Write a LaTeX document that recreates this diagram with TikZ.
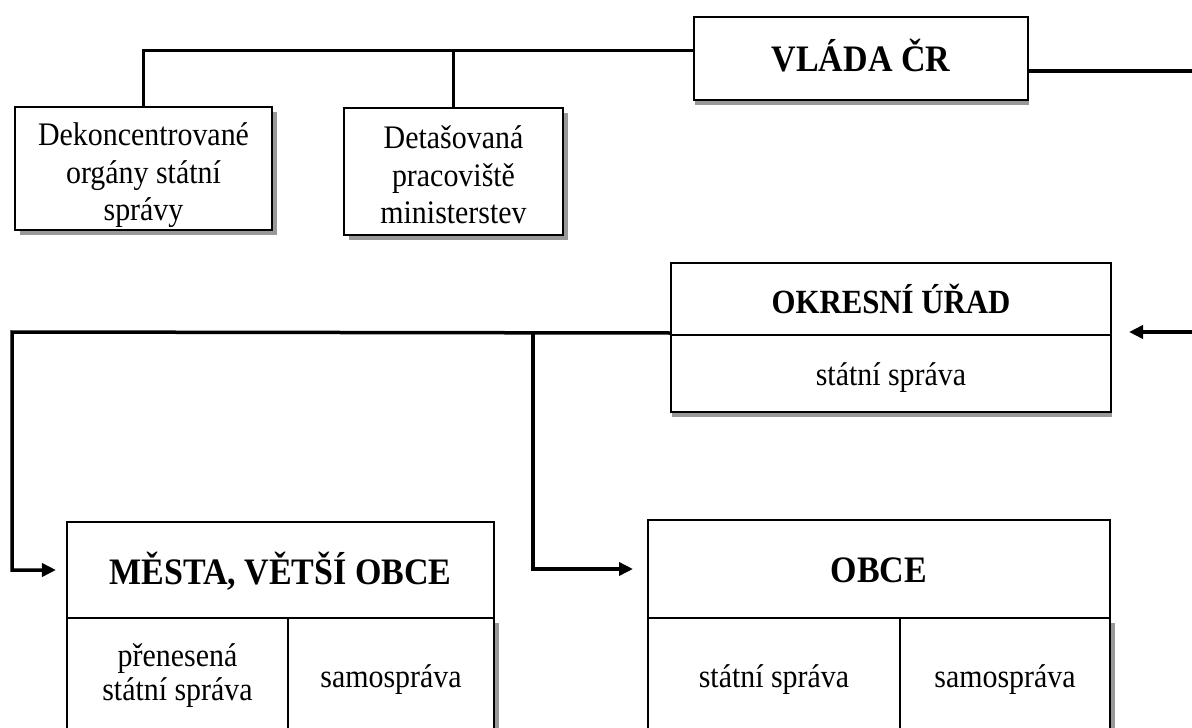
\documentclass[tikz,border=0pt]{standalone}
\usepackage{fontspec}
\setmainfont{Liberation Serif}[FakeStretch=0.91]
\usetikzlibrary{arrows.meta,shadows,calc}

\newcommand\plaintxt{\fontsize{33}{38}\selectfont}
\newcommand\headtxt{\fontsize{37.5}{44}\selectfont\bfseries}
\newcommand\midtxt{\fontsize{34}{40}\selectfont\bfseries}
% a centred block of lines, lowered by #1 without changing its size
\newcommand\lines[2][0bp]{\raisebox{#1}[\height][\depth]{\begin{tabular}{@{}c@{}}#2\end{tabular}}}

\tikzset{
  box/.style={draw, line width=2bp, fill=white, inner sep=0pt, align=center, font=\plaintxt},
  shadeA/.style={drop shadow={shadow xshift=5bp, shadow yshift=-5bp, fill=black!40, opacity=1}},
  shadeB/.style={drop shadow={shadow xshift=1bp, shadow yshift=-5bp, fill=black!40, opacity=1}},
  conn/.style={line width=3.5bp, line join=miter},
  arr/.style={conn, -{Triangle[length=14bp, width=13bp]}},
}

\begin{document}
\begin{tikzpicture}[x=1bp, y=-1bp]
  \useasboundingbox (0,0) rectangle (1192,728);
  \clip (0,0) rectangle (1192,728);
  \fill[white] (0,0) rectangle (1192,728);

  % government
  \node[box, shadeB, minimum width=334bp, minimum height=83bp] (vlada) at (861,58.5) {\headtxt\lines[-3.5bp]{VLÁDA ČR}};

  % bodies under the government
  \node[box, shadeA, minimum width=257bp, minimum height=123bp] (dek) at (143.5,168.5)
    {\lines[-7bp]{Dekoncentrované\\orgány státní\\správy}};
  \node[box, shadeA, minimum width=219bp, minimum height=127bp] (det) at (453.5,171.5)
    {\lines[-7bp]{Detašovaná\\pracoviště\\ministerstev}};

  % district office
  \node[box, shadeB, minimum width=440bp, minimum height=77bp] (okresB) at (891,373.5) {\lines[-4bp]{státní správa}};
  \node[box, minimum width=440bp, minimum height=72bp] (okres) at (891,299) {\midtxt OKRESNÍ ÚŘAD};

  % towns
  \node[box, shadeA, minimum width=221bp, minimum height=118bp] (mestaA) at (177.5,677)
    {\fontsize{33}{34}\selectfont\lines{přenesená\\státní správa}};
  \node[box, shadeA, minimum width=206bp, minimum height=118bp] (mestaB) at (391,677) {\lines[-3bp]{samospráva}};
  \node[box, minimum width=427bp, minimum height=96bp] (mesta) at (280.5,570) {\headtxt\lines[-5bp]{MĚSTA, VĚTŠÍ OBCE}};

  % municipalities
  \node[box, shadeA, minimum width=252bp, minimum height=118bp] (obceA) at (774,677) {\lines[-3bp]{státní správa}};
  \node[box, shadeA, minimum width=210bp, minimum height=118bp] (obceB) at (1005,677) {\lines[-3bp]{samospráva}};
  \node[box, minimum width=462bp, minimum height=98bp] (obce) at (879,569) {\headtxt\lines[-5bp]{OBCE}};

  % connectors
  \coordinate (topl) at ($(vlada.west)+(0,-8)$);
  \draw[conn] (topl) -| (dek.north);
  \draw[conn] (det.north) |- (topl);

  \coordinate (rc1) at (1215,71);
  \coordinate (rc2) at (1215,332);
  \draw[arr] (vlada.east |- rc1) -- (rc1) -- (rc2) -- ($(okres.east |- rc2)+(17,0)$);

  \coordinate (lc) at (12,332);
  \coordinate (bc) at (533,332);
  \draw[arr] ($(okres.south west)+(0,-3)$) -- (lc) |- ($(mesta.west)+(-10,0)$);
  \draw[arr] (bc) |- ($(obce.west)+(-14,0)$);
\end{tikzpicture}
\end{document}
